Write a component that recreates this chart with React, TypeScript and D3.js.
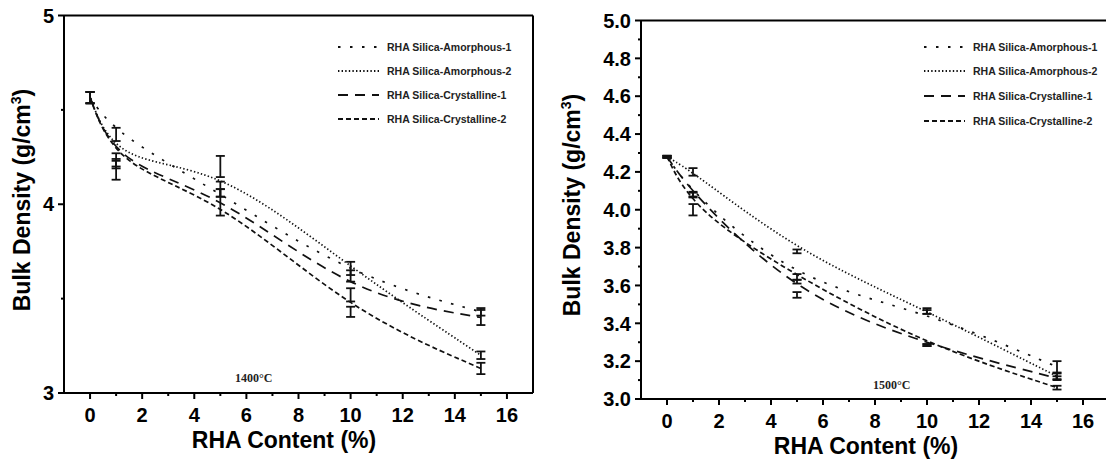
import React from "react";
import * as d3 from "d3";

// ---------- data ----------
const X_VALUES = [0, 1, 5, 10, 15];
const SERIES_NAMES = [
  "RHA Silica-Amorphous-1",
  "RHA Silica-Amorphous-2",
  "RHA Silica-Crystalline-1",
  "RHA Silica-Crystalline-2",
];

// 1400°C panel
const P1400_A1 = [4.565, 4.37, 4.06, 3.62, 3.43];
const P1400_A2 = [4.565, 4.22, 4.2, 3.66, 3.2];
const P1400_C1 = [4.565, 4.21, 4.06, 3.52, 3.4];
const P1400_C2 = [4.565, 4.2, 4.03, 3.43, 3.13];
const P1400_A1_ERR = [0.03, 0.035, 0.02, 0.03, 0.02];
const P1400_A2_ERR = [0.03, 0.02, 0.056, 0.035, 0.02];
const P1400_C1_ERR = [0.03, 0.02, 0.02, 0.035, 0.04];
const P1400_C2_ERR = [0.03, 0.07, 0.09, 0.027, 0.03];

// 1500°C panel
const P1500_A1 = [4.28, 4.08, 3.62, 3.46, 3.17];
const P1500_A2 = [4.28, 4.2, 3.78, 3.465, 3.12];
const P1500_C1 = [4.28, 4.08, 3.55, 3.285, 3.11];
const P1500_C2 = [4.28, 4.0, 3.645, 3.285, 3.06];
const P1500_A1_ERR = [0.005, 0.015, 0.01, 0.01, 0.03];
const P1500_A2_ERR = [0.005, 0.02, 0.01, 0.015, 0.015];
const P1500_C1_ERR = [0.005, 0.01, 0.015, 0.005, 0.01];
const P1500_C2_ERR = [0.005, 0.03, 0.015, 0.005, 0.01];

const X_TICKS = [0, 2, 4, 6, 8, 10, 12, 14, 16];
const X_MINOR = [1, 3, 5, 7, 9, 11, 13, 15];
const Y_TICKS_1400 = [3, 4, 5];
const Y_MINOR_1400 = [3.5, 4.5];
const Y_TICKS_1500 = [3.0, 3.2, 3.4, 3.6, 3.8, 4.0, 4.2, 4.4, 4.6, 4.8, 5.0];
const Y_MINOR_1500 = [3.1, 3.3, 3.5, 3.7, 3.9, 4.1, 4.3, 4.5, 4.7, 4.9];

// ---------- styles ----------
const DASHES = ["2.5 9.5", "1.4 2.2", "10 7", "5 3"];
const FONT = "'Liberation Sans', Arial, sans-serif";

type PanelProps = {
  left: number;
  right: number;
  top: number;
  bottom: number;
  yTicks: number[];
  yMinor: number[];
  yFmt: (v: number) => string;
  series: number[][];
  errs: number[][];
  temp: string;
  tempX: number;
  tempY: number;
  legendX: number;
  legendYs: number[];
  xTitleX: number;
  yTitleX: number;
  yTitleY: number;
};

function Panel(p: PanelProps) {
  const x = d3.scaleLinear().domain([-1, 17]).range([p.left, p.right]);
  const y = d3.scaleLinear().domain([3, 5]).range([p.bottom, p.top]);
  const line = d3
    .line<[number, number]>()
    .x((d) => x(d[0]))
    .y((d) => y(d[1]))
    .curve(d3.curveBasis);

  return (
    <g>
      {/* curves */}
      {p.series.map((vals, i) => (
        <path
          key={"l" + i}
          d={line(X_VALUES.map((xv, j) => [xv, vals[j]] as [number, number])) || ""}
          fill="none"
          stroke="#111"
          strokeWidth={1.7}
          strokeDasharray={DASHES[i]}
        />
      ))}
      {/* error bars */}
      {p.series.map((vals, i) =>
        X_VALUES.map((xv, j) => {
          const cx = x(xv);
          const y1 = y(vals[j] + p.errs[i][j]);
          const y2 = y(vals[j] - p.errs[i][j]);
          return (
            <g key={"e" + i + "-" + j} stroke="#111" strokeWidth={1.8}>
              <line x1={cx} x2={cx} y1={y1} y2={y2} />
              <line x1={cx - 4.5} x2={cx + 4.5} y1={y1} y2={y1} />
              <line x1={cx - 4.5} x2={cx + 4.5} y1={y2} y2={y2} />
            </g>
          );
        })
      )}
      {/* frame */}
      <line x1={p.left} x2={p.left} y1={p.top} y2={p.bottom} stroke="#000" strokeWidth={2} />
      <line x1={p.left} x2={p.right} y1={p.bottom} y2={p.bottom} stroke="#000" strokeWidth={2} />
      <line x1={p.left} x2={p.right} y1={p.top} y2={p.top} stroke="#000" strokeWidth={2} />
      <line x1={p.right} x2={p.right} y1={p.top} y2={p.bottom} stroke="#000" strokeWidth={2} />
      {/* x ticks */}
      {X_TICKS.map((t) => (
        <g key={"xt" + t}>
          <line x1={x(t)} x2={x(t)} y1={p.bottom} y2={p.bottom + 6} stroke="#000" strokeWidth={2} />
          <text
            x={x(t)}
            y={p.bottom + 29}
            textAnchor="middle"
            fontFamily={FONT}
            fontWeight="bold"
            fontSize={20}
          >
            {t}
          </text>
        </g>
      ))}
      {X_MINOR.map((t) => (
        <line key={"xm" + t} x1={x(t)} x2={x(t)} y1={p.bottom} y2={p.bottom + 3} stroke="#000" strokeWidth={2} />
      ))}
      {/* y ticks */}
      {p.yTicks.map((t) => (
        <g key={"yt" + t}>
          <line x1={p.left - 6} x2={p.left} y1={y(t)} y2={y(t)} stroke="#000" strokeWidth={2} />
          <text
            x={p.left - 10}
            y={y(t)}
            dy="0.36em"
            textAnchor="end"
            fontFamily={FONT}
            fontWeight="bold"
            fontSize={20}
          >
            {p.yFmt(t)}
          </text>
        </g>
      ))}
      {p.yMinor.map((t) => (
        <line key={"ym" + t} x1={p.left - 3} x2={p.left} y1={y(t)} y2={y(t)} stroke="#000" strokeWidth={2} />
      ))}
      {/* axis titles */}
      <text
        x={p.xTitleX}
        y={p.bottom + 55}
        textAnchor="middle"
        fontFamily={FONT}
        fontWeight="bold"
        fontSize={23}
      >
        RHA Content (%)
      </text>
      <text
        transform={`translate(${p.yTitleX},${p.yTitleY}) rotate(-90)`}
        textAnchor="middle"
        fontFamily={FONT}
        fontWeight="bold"
        fontSize={23}
      >
        Bulk Density (g/cm
        <tspan fontSize={14} dy={-9}>3</tspan>
        <tspan dy={9}>)</tspan>
      </text>
      {/* temperature */}
      <text
        x={p.tempX}
        y={p.tempY}
        fontFamily="'Liberation Serif', 'Times New Roman', serif"
        fontWeight="bold"
        fontSize={12}
        fill="#222"
      >
        {p.temp}
      </text>
      {/* legend */}
      {SERIES_NAMES.map((name, i) => (
        <g key={"lg" + i}>
          <line
            x1={p.legendX}
            x2={p.legendX + 41}
            y1={p.legendYs[i]}
            y2={p.legendYs[i]}
            stroke="#111"
            strokeWidth={1.8}
            strokeDasharray={DASHES[i]}
          />
          <text
            x={p.legendX + 49}
            y={p.legendYs[i]}
            dy="0.36em"
            fontFamily={FONT}
            fontWeight="bold"
            fontSize={10.5}
            fill="#222"
          >
            {name}
          </text>
        </g>
      ))}
    </g>
  );
}

export default function App() {
  return (
    <svg
      width={1106}
      height={460}
      style={{ position: "absolute", left: 0, top: 0, background: "#fff" }}
    >
      <rect x={0} y={0} width={1106} height={460} fill="#fff" />
      <Panel
        left={64}
        right={533}
        top={15.5}
        bottom={393}
        yTicks={Y_TICKS_1400}
        yMinor={Y_MINOR_1400}
        yFmt={(v) => d3.format("d")(v)}
        series={[P1400_A1, P1400_A2, P1400_C1, P1400_C2]}
        errs={[P1400_A1_ERR, P1400_A2_ERR, P1400_C1_ERR, P1400_C2_ERR]}
        temp="1400°C"
        tempX={235}
        tempY={382}
        legendX={338}
        legendYs={[47, 71, 95, 119]}
        xTitleX={284}
        yTitleX={30}
        yTitleY={200}
      />
      <Panel
        left={641}
        right={1109}
        top={20.5}
        bottom={399}
        yTicks={Y_TICKS_1500}
        yMinor={Y_MINOR_1500}
        yFmt={(v) => d3.format(".1f")(v)}
        series={[P1500_A1, P1500_A2, P1500_C1, P1500_C2]}
        errs={[P1500_A1_ERR, P1500_A2_ERR, P1500_C1_ERR, P1500_C2_ERR]}
        temp="1500°C"
        tempX={873}
        tempY={389}
        legendX={924}
        legendYs={[47, 71, 96, 121]}
        xTitleX={866}
        yTitleX={580}
        yTitleY={205}
      />
    </svg>
  );
}
